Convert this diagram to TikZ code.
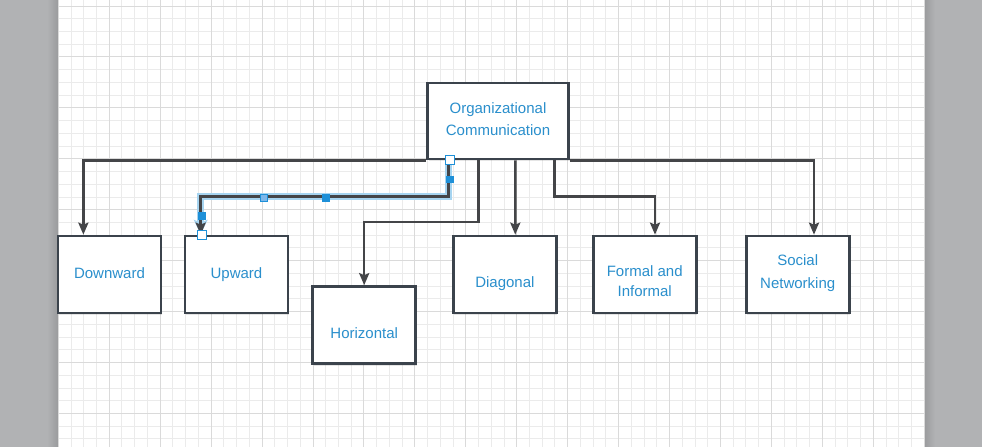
\documentclass[tikz,border=0pt]{standalone}
\usepackage{fontspec}
\setmainfont{Liberation Sans}
\usetikzlibrary{arrows.meta,calc,shadows}
\definecolor{txtblue}{HTML}{2A8FCC}
\definecolor{boxline}{HTML}{3B434C}
\definecolor{conline}{HTML}{444548}
\definecolor{gridminor}{HTML}{EBEBEB}
\definecolor{gridmajor}{HTML}{DADADA}
\definecolor{sidegray}{HTML}{B1B2B4}
\definecolor{sidedark}{HTML}{9C9D9F}
\definecolor{selblue}{HTML}{1E90D8}
\definecolor{sellight}{HTML}{A6D4F0}
\definecolor{handlelight}{HTML}{7DB7EA}
\begin{document}
\begin{tikzpicture}[x=0.75pt,y=-0.75pt,
  box/.style={draw=boxline, line width=2pt, fill=white, minimum width=77.25pt,
    minimum height=57.75pt, inner sep=0pt,
    drop shadow={shadow xshift=0.8pt, shadow yshift=-1.5pt, opacity=0.10, fill=black}},
  txt/.style={text=txtblue, font=\fontsize{11.25pt}{13.5pt}\selectfont, anchor=base, inner sep=0pt},
  conn/.style={draw=conline, line width=1.9pt, -{Stealth[length=9pt,width=7.5pt,inset=1.5pt]}},
  sel/.style={draw=sellight, line width=4.8pt, -{Stealth[length=11pt,width=10pt,inset=2pt]}},
  whandle/.style={draw=selblue, fill=white, line width=0.8pt, minimum size=7pt, inner sep=0pt},
  bhandle/.style={fill=selblue, minimum size=5.5pt, inner sep=0pt},
  lhandle/.style={draw=selblue, fill=handlelight, line width=0.5pt, minimum size=5.5pt, inner sep=0pt}
]
\useasboundingbox (0,0) rectangle (982,447);
% background
\fill[sidegray] (0,0) rectangle (982,447);
\foreach \k in {0,...,9} {
  \pgfmathsetmacro{\mix}{100-10*\k}
  \fill[sidedark!\mix!sidegray] ({57-\k},0) rectangle ({58-\k},447);
  \fill[sidedark!\mix!sidegray] ({925+\k},0) rectangle ({926+\k},447);
}
\fill[white] (58,0) rectangle (925,447);
\begin{scope}
\clip (58,0) rectangle (925,447);
\foreach \i in {0,...,68} \draw[gridminor, line width=0.75pt] ({58.3+12.735*\i},0) -- ({58.3+12.735*\i},447);
\foreach \j in {-1,...,34} \draw[gridminor, line width=0.75pt] (58,{6+12.735*\j}) -- (925,{6+12.735*\j});
\foreach \i in {0,...,17} \draw[gridmajor, line width=0.75pt] ({58.3+50.94*\i},0) -- ({58.3+50.94*\i},447);
\foreach \j in {0,...,8} \draw[gridmajor, line width=0.75pt] (58,{6+50.94*\j}) -- (925,{6+50.94*\j});
\end{scope}

% boxes
\node[box, minimum width=105.75pt, minimum height=57pt] (org) at (498,121) {};
\node[box] (down) at (109.5,274.5) {};
\node[box] (up) at (236.5,274.5) {};
\node[box] (horiz) at (364.2,325) {};
\node[box] (diag) at (504.7,274.5) {};
\node[box] (formal) at (644.7,274.5) {};
\node[box] (social) at (797.7,274.5) {};

% texts
\node[txt] (t1) at (498,113) {Organizational};
\node[txt] (t2) at (498,135.9) {Communication};
\node[txt] (t3) at (109.5,278.4) {Downward};
\node[txt] (t4) at (236.5,278.4) {Upward};
\node[txt] (t5) at (364.2,338) {Horizontal};
\node[txt] (t6) at (504.9,287) {Diagonal};
\node[txt] (t7) at (644.7,276.2) {Formal and};
\node[txt] (t8) at (644.7,296.2) {Informal};
\node[txt] (t9) at (797.7,265.2) {Social};
\node[txt] (t10) at (797.7,288.4) {Networking};

% connectors
\draw[conn] (org.south west) -| ($(down.north west)+(26.7,0)$);
\draw[sel] ($(org.south west)+(22.5,0)$) |- ($(up.north west)+(17,-38)$) -- ($(up.north west)+(17,0)$);
\draw[conn] ($(org.south west)+(22.5,0)$) |- ($(up.north west)+(17,-38)$) -- ($(up.north west)+(17,0)$);
\draw[conn] ($(org.south west)+(52.5,0)$) |- ($(horiz.north)+(0,-63)$) -- (horiz.north);
\draw[conn] ($(org.south west)+(89.2,0)$) -- ($(diag.north west)+(63.4,0)$);
\draw[conn] ($(org.south west)+(128.2,0)$) |- ($(formal.north)+(10.3,-38.3)$) -- ($(formal.north)+(10.3,0)$);
\draw[conn] (org.south east) -| ($(social.north)+(16.3,0)$);

% selection handles
\node[bhandle] (h2) at (450,179.5) {};
\node[bhandle] (h3) at (326,198) {};
\node[lhandle] (h4) at (264,198) {};
\node[bhandle] (h5) at (202,216) {};
\node[whandle] (h1) at (450,160) {};
\node[whandle] (h6) at (202,235) {};
\end{tikzpicture}
\end{document}
